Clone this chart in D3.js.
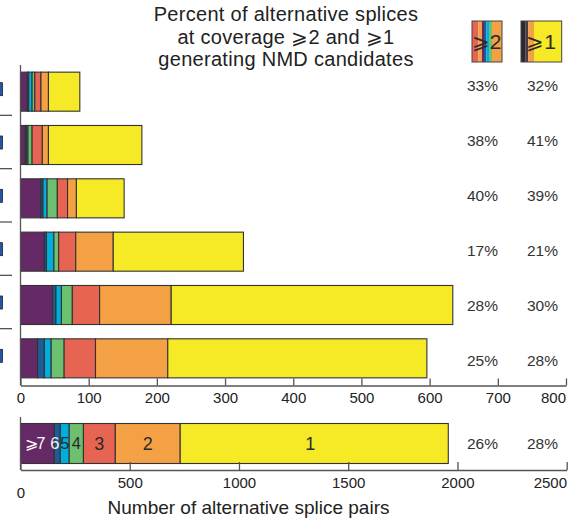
<!DOCTYPE html>
<html>
<head>
<meta charset="utf-8">
<script src="https://cdn.jsdelivr.net/npm/d3@7"></script>
<style>
  html, body { margin: 0; padding: 0; background: #fff; }
  svg text { font-family: "Liberation Sans", Arial, Helvetica, sans-serif; }
</style>
</head>
<body>
<svg id="chart" width="576" height="518"></svg>
<script>
// Coverage classes, from highest coverage to lowest
const classes = ["⩾7", "6", "5", "4", "3", "2", "1"];
const classColors = ["#652a65", "#1d5c96", "#00aedd", "#6cc070", "#e86452", "#f4a045", "#f6e926"];
const classLabelColors = ["#ffffff", "#f2f2f2", "#2a2a2a", "#2a2a2a", "#2a2a2a", "#2a2a2a", "#2a2a2a"];

// One row per group; values are splice-pair counts per coverage class
const rowIds = ["r1", "r2", "r3", "r4", "r5", "r6"];
const rowValues = [
  [10, 2, 5, 4, 9, 11, 46],
  [7, 2, 2, 6, 15, 9, 137],
  [30, 3, 6, 15, 15, 13, 70],
  [35, 3, 11, 7, 25, 55, 191],
  [47, 5, 8, 16, 40, 105, 413],
  [25, 10, 10, 19, 46, 106, 380]
];
const pctCov2 = ["33%", "38%", "40%", "17%", "28%", "25%"];
const pctCov1 = ["32%", "41%", "39%", "21%", "30%", "28%"];

// Pooled row across all groups
const totalValues = [155, 27, 41, 65, 146, 297, 1227];
const totalPct2 = "26%";
const totalPct1 = "28%";

const topTicks = [0, 100, 200, 300, 400, 500, 600, 700, 800];
const bottomTicks = [0, 500, 1000, 1500, 2000, 2500];

const titleLines = ["Percent of alternative splices", "at coverage ⩾2 and ⩾1", "generating NMD candidates"];
const xTitle = "Number of alternative splice pairs";

// Mini swatches heading the two percent columns
const swatch2 = [["#e86452", 6.3], ["#f4a045", 3.7], ["#652a65", 2], ["#1d5c96", 2.3], ["#00aedd", 2.7], ["#6cc070", 3], ["#f4a045", 10]];
const swatch1 = [["#2b2b2b", 4.7], ["#4a3a4a", 2.6], ["#f4a045", 5.7], ["#f6e926", 27.7]];

const svg = d3.select("#chart");
const axisColor = "#555";
const edge = "#333";

function stack(vals) {
  let acc = 0;
  return vals.map((v, i) => { const s = acc; acc += v; return { i, x0: s, x1: acc }; });
}

// keeps the last tick label inside the right edge of the axis
function pinLastLabel(axisG, last, right) {
  axisG.selectAll(".tick").filter(d => d === last).select("text")
    .attr("text-anchor", "end").attr("x", function () {
      return right - (+d3.select(this.parentNode).attr("transform").match(/translate\(([-\d.]+)/)[1]);
    });
}

// ---------- upper panel ----------
const x = d3.scaleLinear().domain([0, 800]).range([20.5, 566]);
const y = d3.scaleBand().domain(rowIds).range([65, 385]).paddingInner(0.268).paddingOuter(0.134);

const rows = svg.append("g").selectAll("g").data(rowValues).join("g")
  .attr("transform", (d, i) => `translate(0,${y(rowIds[i])})`);
rows.selectAll("rect").data(d => stack(d)).join("rect")
  .attr("x", d => x(d.x0))
  .attr("width", d => x(d.x1) - x(d.x0))
  .attr("y", 0)
  .attr("height", y.bandwidth())
  .attr("fill", d => classColors[d.i])
  .attr("stroke", edge)
  .attr("stroke-width", 1.1);

// left axis line
svg.append("line").attr("x1", 20.5).attr("x2", 20.5).attr("y1", 65).attr("y2", 385.5)
  .attr("stroke", axisColor).attr("stroke-width", 1.3);

// row separators and row markers at the far left
const sep = rowIds.slice(1).map(id => y(id) - y.step() * y.paddingInner() / 2);
svg.append("g").selectAll("line").data(sep).join("line")
  .attr("x1", 0).attr("x2", 12).attr("y1", d => d - 3).attr("y2", d => d - 3)
  .attr("stroke", axisColor).attr("stroke-width", 1.3);
svg.append("g").selectAll("rect").data(rowIds).join("rect")
  .attr("x", -1).attr("width", 3.5)
  .attr("y", d => y(d) + y.bandwidth() / 2 - 9).attr("height", 13)
  .attr("fill", "#1f56a8").attr("stroke", "#222").attr("stroke-width", 0.8);

// bottom axis of upper panel, ticks pointing inward
const topAxis = svg.append("g").attr("transform", "translate(0,385.5)")
  .call(d3.axisBottom(x).tickValues(topTicks).tickSizeInner(-7).tickSizeOuter(0).tickPadding(7).tickFormat(d3.format("d")));
topAxis.select(".domain").attr("stroke", axisColor).attr("stroke-width", 1.3);
topAxis.selectAll(".tick line").attr("stroke", axisColor).attr("stroke-width", 1.3);
topAxis.selectAll(".tick text").attr("font-size", 15).attr("fill", "#222");
pinLastLabel(topAxis, 800, 566);

// percent columns
const yp = d3.scalePoint().domain(rowIds).range([86, 361]);
svg.append("g").selectAll("text").data(pctCov2).join("text")
  .attr("x", 482.5).attr("y", (d, i) => yp(rowIds[i])).attr("dy", "0.35em")
  .attr("text-anchor", "middle").attr("font-size", 15.5).attr("fill", "#333").text(d => d);
svg.append("g").selectAll("text").data(pctCov1).join("text")
  .attr("x", 542.5).attr("y", (d, i) => yp(rowIds[i])).attr("dy", "0.35em")
  .attr("text-anchor", "middle").attr("font-size", 15.5).attr("fill", "#333").text(d => d);

// ---------- lower panel (pooled) ----------
const x2 = d3.scaleLinear().domain([0, 2500]).range([20.5, 566.7]);
const barTop = 423.5, barH = 40;
const labelShift = [-3, -2.5, 0, 0, 0, 0, -4];
const tot = svg.append("g");
const totStack = stack(totalValues);
tot.selectAll("rect").data(totStack).join("rect")
  .attr("x", d => x2(d.x0)).attr("width", d => x2(d.x1) - x2(d.x0))
  .attr("y", barTop).attr("height", barH)
  .attr("fill", d => classColors[d.i]).attr("stroke", edge).attr("stroke-width", 1.1);
tot.selectAll("text").data(totStack).join("text")
  .attr("x", d => (x2(d.x0) + x2(d.x1)) / 2).attr("y", barTop + barH / 2).attr("dy", "0.36em")
  .attr("dx", d => labelShift[d.i])
  .attr("text-anchor", "middle")
  .attr("font-size", d => d.i === 0 ? 16 : (d.i < 4 ? 16.5 : 18))
  .attr("letter-spacing", d => d.i === 0 ? -1.5 : 0)
  .attr("fill", d => classLabelColors[d.i]).text(d => classes[d.i]);

svg.append("line").attr("x1", 20.5).attr("x2", 20.5).attr("y1", 417).attr("y2", 470)
  .attr("stroke", axisColor).attr("stroke-width", 1.3);

const botAxis = svg.append("g").attr("transform", "translate(0,470)")
  .call(d3.axisBottom(x2).tickValues(bottomTicks).tickSizeInner(-8).tickSizeOuter(0).tickPadding(7.5).tickFormat(d3.format("d")));
botAxis.select(".domain").attr("stroke", axisColor).attr("stroke-width", 1.3);
botAxis.selectAll(".tick line").attr("stroke", axisColor).attr("stroke-width", 1.3);
botAxis.selectAll(".tick text").attr("font-size", 15).attr("fill", "#222");
botAxis.selectAll(".tick").filter(d => d === 0).select("text").attr("dy", "1.38em");
pinLastLabel(botAxis, 2500, 567);

svg.append("text").attr("x", 482.5).attr("y", 444).attr("dy", "0.35em")
  .attr("text-anchor", "middle").attr("font-size", 15.5).attr("fill", "#333").text(totalPct2);
svg.append("text").attr("x", 542.5).attr("y", 444).attr("dy", "0.35em")
  .attr("text-anchor", "middle").attr("font-size", 15.5).attr("fill", "#333").text(totalPct1);

svg.append("text").attr("x", 248.5).attr("y", 513.5)
  .attr("text-anchor", "middle").attr("font-size", 19).attr("fill", "#222").text(xTitle);

// ---------- title ----------
svg.append("g").selectAll("text").data(titleLines).join("text")
  .attr("x", 286).attr("y", (d, i) => 21 + i * 22.5)
  .attr("text-anchor", "middle").attr("font-size", 20).attr("letter-spacing", 0.3)
  .attr("fill", "#222").text(d => d);

// ---------- column swatches ----------
function drawSwatch(parts, x0, label, labelX) {
  const g = svg.append("g");
  let acc = x0;
  parts.forEach(([c, w]) => {
    g.append("rect").attr("x", acc).attr("y", 21).attr("width", w).attr("height", 41).attr("fill", c);
    acc += w;
  });
  g.append("rect").attr("x", x0).attr("y", 21).attr("width", acc - x0).attr("height", 41)
    .attr("fill", "none").attr("stroke", "#444").attr("stroke-width", 1);
  g.append("text").attr("x", labelX).attr("y", 41).attr("dy", "0.36em").attr("text-anchor", "middle")
    .attr("font-size", 21).attr("fill", "#2a2a2a").text(label);
}
drawSwatch(swatch2, 472, "⩾2", 486.5);
drawSwatch(swatch1, 521, "⩾1", 541);
</script>
</body>
</html>
